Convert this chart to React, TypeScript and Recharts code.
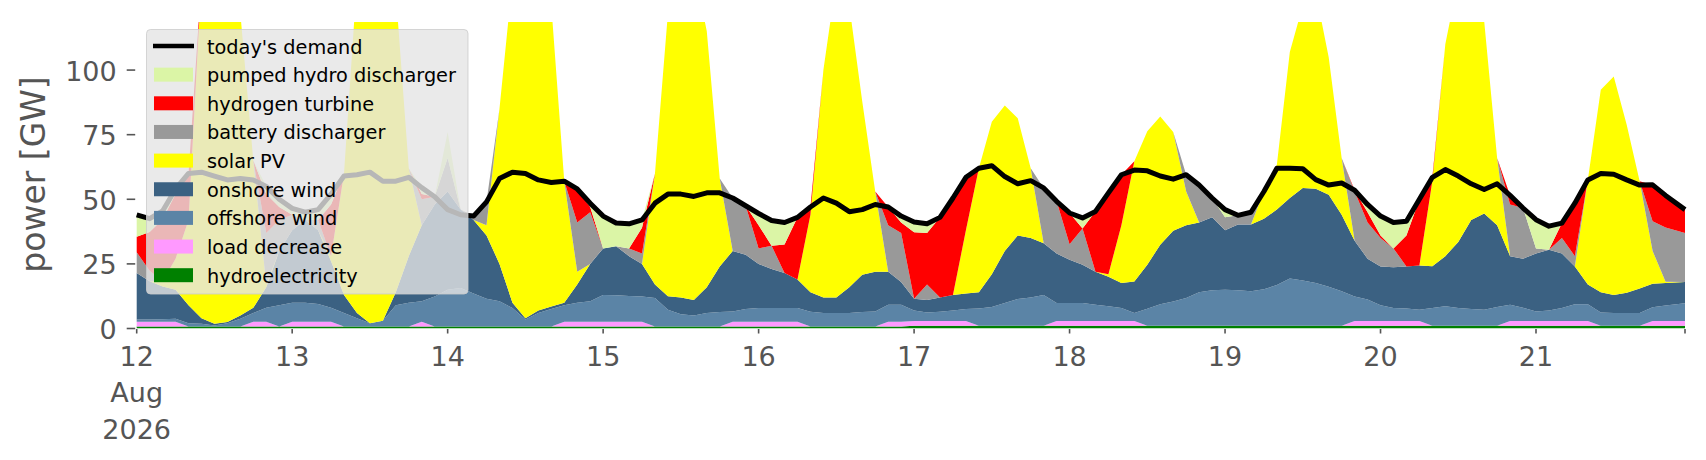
import React from 'react';
import { ComposedChart, Area, Line, XAxis, YAxis } from 'recharts';

// hours since 12 Aug 2026 00:00 (read every 2 h, last point is the final hour)
const hours = [
  0, 2, 4, 6, 8, 10, 12, 14, 16, 18, 20, 22,
  24, 26, 28, 30, 32, 34, 36, 38, 40, 42, 44, 46,
  48, 50, 52, 54, 56, 58, 60, 62, 64, 66, 68, 70,
  72, 74, 76, 78, 80, 82, 84, 86, 88, 90, 92, 94,
  96, 98, 100, 102, 104, 106, 108, 110, 112, 114, 116, 118,
  120, 122, 124, 126, 128, 130, 132, 134, 136, 138, 140, 142,
  144, 146, 148, 150, 152, 154, 156, 158, 160, 162, 164, 166,
  168, 170, 172, 174, 176, 178, 180, 182, 184, 186, 188, 190,
  192, 194, 196, 198, 200, 202, 204, 206, 208, 210, 212, 214,
  216, 218, 220, 222, 224, 226, 228, 230, 232, 234, 236, 239,
];

// GW, one row per day
const hydroelectricity = [
  0.8, 0.8, 0.8, 0.8, 0.8, 0.8, 0.8, 0.8, 0.8, 0.8, 0.8, 0.8,
  0.8, 0.8, 0.8, 0.8, 0.8, 0.8, 0.8, 0.8, 0.8, 0.8, 0.8, 0.8,
  0.8, 0.8, 0.8, 0.8, 0.8, 0.8, 0.8, 0.8, 0.8, 0.8, 0.8, 0.8,
  0.8, 0.8, 0.8, 0.8, 0.8, 0.8, 0.8, 0.8, 0.8, 0.8, 0.8, 0.8,
  0.8, 0.8, 0.8, 0.8, 0.8, 0.8, 0.8, 0.8, 0.8, 0.8, 0.8, 0.8,
  1.1, 1.1, 1.1, 1.1, 1.1, 1.1, 1.1, 1.1, 1.1, 1.1, 1.1, 1.1,
  1.1, 1.1, 1.1, 1.1, 1.1, 1.1, 1.1, 1.1, 1.1, 1.1, 1.1, 1.1,
  1.1, 1.1, 1.1, 1.1, 1.1, 1.1, 1.1, 1.1, 1.1, 1.1, 1.1, 1.1,
  1.1, 1.1, 1.1, 1.1, 1.1, 1.1, 1.1, 1.1, 1.1, 1.1, 1.1, 1.1,
  1.1, 1.1, 1.1, 1.1, 1.1, 1.1, 1.1, 1.1, 1.1, 1.1, 1.1, 1.1,
];
const loadDecrease = [
  1.8, 1.8, 1.8, 1.8, 0, 0, 0, 0, 0, 1.8, 1.8, 0,
  1.8, 1.8, 1.8, 1.8, 0, 0, 0, 0, 0, 0, 1.8, 0,
  0, 0, 0, 0, 0, 0, 0, 0, 0, 1.8, 1.8, 1.8,
  1.8, 1.8, 1.8, 1.8, 0, 0, 0, 0, 0, 0, 1.8, 1.8,
  1.8, 1.8, 1.8, 1.8, 0, 0, 0, 0, 0, 0, 1.8, 1.8,
  1.8, 1.8, 1.8, 1.8, 1.8, 0, 0, 0, 0, 0, 0, 1.8,
  1.8, 1.8, 1.8, 1.8, 1.8, 1.8, 0, 0, 0, 0, 0, 0,
  0, 0, 0, 0, 0, 0, 0, 0, 0, 0, 1.8, 1.8,
  1.8, 1.8, 1.8, 1.8, 0, 0, 0, 0, 0, 0, 1.8, 1.8,
  1.8, 1.8, 1.8, 1.8, 1.8, 0, 0, 0, 0, 1.8, 1.8, 1.8,
];
const offshoreWind = [
  0.9, 0.9, 1, 1.2, 1.2, 1, 0.4, 1.2, 3, 3.4, 5.4, 8.2,
  7.4, 7.4, 6.9, 5.4, 5.2, 3.2, 1.2, 2.2, 8.2, 9.2, 7.9, 11.6,
  14.2, 14.9, 12.7, 10.7, 9.7, 7.1, 2.7, 5.2, 6.7, 6.4, 7.4, 7.9,
  10.4, 10.3, 10, 9.8, 11, 6.5, 4.7, 4.2, 5.2, 5.6, 4, 4.9,
  5.3, 5.3, 5.3, 5.3, 5.7, 5.2, 5.2, 5.2, 5.6, 5.8, 6.6, 6.6,
  4.1, 3.3, 3.6, 4.1, 4.6, 6.6, 7.2, 8.8, 10.3, 10.9, 11.9, 7,
  7, 7, 6.3, 5.7, 5, 3.1, 6.5, 8.3, 9.3, 10.7, 12.9, 13.7,
  13.9, 13.7, 13.3, 14.1, 15.7, 18.2, 17.5, 16.5, 15.1, 13.3, 9.5, 8.3,
  6.1, 5, 4.8, 4.4, 6.8, 7.5, 6.8, 6.4, 6.2, 7.2, 6.3, 5.1,
  3.7, 4.1, 5, 6.5, 6.5, 5.1, 4.9, 4.9, 4.9, 5.3, 6, 6.9,
];
const onshoreWind = [
  18, 14.8, 12.7, 11.2, 7, 2.2, 0.6, 0.5, 1.2, 2, 8, 21,
  28, 32, 28.5, 18, 7, 2, 0, 0, 5, 18, 29.5, 35.6,
  38, 30.3, 28.5, 24.5, 14.5, 2.1, 0.5, 1, 1, 1, 7, 14.5,
  18, 18.9, 15.4, 12.6, 5.2, 5.2, 6.5, 6, 10, 17.6, 23.4, 21,
  17.1, 15.1, 13.6, 11.1, 7.5, 6, 6, 10, 14.4, 15.4, 12.8, 8.8,
  4.5, 4.8, 5.5, 6, 6, 6.3, 12.7, 20.1, 24.6, 23, 20, 19.1,
  16.7, 14.8, 12.8, 11.4, 9.7, 12.2, 17.1, 23, 27.4, 28.2, 27, 28.2,
  23, 25.4, 25.8, 27.3, 29.2, 31.2, 35.8, 36.5, 35.6, 29.6, 21.6, 15.8,
  15, 15.8, 16.3, 17.1, 16.2, 19.4, 25.6, 34.5, 37.2, 31.7, 18.8, 19,
  22.4, 23.5, 21.1, 14.6, 7.6, 7.8, 7, 7.8, 9.5, 9.1, 8.7, 8.2,
];
const solarPV = [
  0, 0, 2, 12, 33, 131, 148, 142, 117, 57, 1, 0,
  0, 0, 0, 2, 47, 129, 148, 142, 116, 34, 0, 0,
  0, 0, 0, 4, 60, 125, 151, 143, 116.5, 47, 5, 0,
  0, 0, 0, 0, 43, 109.5, 133, 129, 99, 34, 0, 0,
  0, 0, 0, 0, 30, 88, 123, 109, 67, 31, 0, 0,
  0, 0, 0, 0, 24.5, 48, 59, 56.3, 45.4, 27, 0, 0,
  0, 0, 0, 1, 22.4, 46.5, 51.6, 49.6, 38.2, 13, 0, 0,
  0, 0, 0, 10.5, 17.4, 56.5, 70.6, 76, 53.2, 22, 0, 0,
  0, 0, 0, 0, 33, 82, 101.5, 88, 74.5, 26, 0, 0,
  0, 0, 0, 0, 40.5, 78.4, 84.5, 65, 41.5, 12.7, 0.5, 0,
];
const batteryDischarger = [
  8, 4, 0, 0, 0, 0, 0, 0, 0, 0, 20, 12,
  6, 0, 4, 0, 0, 0, 0, 0, 0, 0, 10, 3,
  13, 0, 1.5, 9, 0, 0, 0, 0, 0, 0, 19, 20,
  0, 0, 3, 4, 0, 0, 0, 0, 0, 0, 20.5, 19,
  6, 9, 0, 0, 0, 0, 0, 0, 0, 0, 18, 19,
  0, 6, 0, 0, 0, 0, 0, 0, 0, 0, 21.4, 20.2,
  6, 14, 0, 0, 0, 0, 0, 0, 0, 6.5, 14.5, 7.5,
  5, 3.6, 4.8, 0, 0, 0, 0, 0, 0, 0, 19, 14,
  11, 7.3, 0, 0, 0, 0, 0, 0, 0, 0, 20, 19.6,
  2, 0, 6, 4, 0, 0, 0, 0, 0, 11.5, 21, 19,
];
const hydrogenTurbine = [
  6, 15, 24, 25, 18, 0, 0, 0, 0, 0, 15, 5,
  0, 0, 0, 20, 0, 0, 0, 0, 0, 0, 2, 0,
  0, 0, 0, 0, 0, 0, 0, 0, 0, 0, 13, 2,
  0, 0, 0, 10, 0, 0, 0, 0, 0, 0, 0, 0,
  9, 0, 11, 24, 3, 0, 0, 0, 0, 0, 7, 4,
  25.7, 20, 31, 37.5, 20.5, 0, 0, 0, 0, 0, 0, 0,
  12.1, 0, 23.3, 31.5, 19.5, 0, 0, 0, 0, 0, 0, 0,
  0, 0, 0, 0, 0, 0, 0, 0, 0, 0, 0.5, 4,
  1, 0, 12, 25.6, 1.4, 0, 0, 0, 0, 0, 3.5, 0,
  0, 0, 5.8, 20.5, 0, 0, 0, 0, 0, 14, 12.5, 9,
];
const pumpedHydroDischarger = [
  8.5, 5.2, 3.2, 2, 0, 0, 0, 0, 0, 0, 3, 3,
  2.5, 3, 4, 4, 0, 0, 0, 0, 0, 0, 2.5, 0,
  10, 0, 0, 0, 0, 0, 0, 0, 0, 0, 0, 1.5,
  12.5, 9, 9.5, 3, 0, 0, 0, 0, 0, 0, 0, 0,
  4.5, 9.8, 8.5, 0, 0, 0, 0, 0, 0, 0, 0, 2.5,
  4, 3.5, 0, 0, 0, 0, 0, 0, 0, 0, 0, 0,
  0, 4.1, 0, 0, 0, 0, 0, 0, 0, 0, 0, 0,
  3, 0, 0, 0, 0, 0, 0, 0, 0, 0, 0, 3,
  7.5, 10, 5.5, 0, 0, 0, 0, 0, 0, 0, 0, 0,
  11.1, 9.1, 0, 0, 0, 0, 0, 0, 0, 0, 0, 0,
];
const todaysDemand = [
  44, 42.5, 45.5, 54, 60, 60.5, 59, 57.5, 58, 57.5, 55, 50,
  46.5, 45, 46, 52, 59, 59.5, 60.5, 57, 57, 58.5, 54.5, 51,
  46, 44, 43.5, 49, 58, 60.5, 60, 57.5, 56.5, 57, 54, 48.5,
  43.5, 40.8, 40.5, 42, 48.5, 52, 52, 51.1, 52.5, 52.5, 50.5, 47.5,
  44.5, 41.8, 41, 43, 47, 50.5, 48.5, 45.2, 46, 48, 47, 43.5,
  41.2, 40.5, 43, 50.5, 58.5, 62, 63, 58.8, 56, 57.2, 54.4, 49.2,
  44.7, 42.8, 45.3, 52.5, 59.5, 61.3, 61, 59, 57.8, 59.5, 55.5, 50.5,
  46, 43.8, 45, 53, 62, 62, 61.8, 57.6, 55.5, 56.3, 53.5, 48,
  43.5, 41, 41.5, 50, 58.5, 61.5, 59, 56, 53.8, 56, 51.5, 46.6,
  42.1, 39.6, 40.8, 48.5, 57.5, 60, 59.7, 57.5, 55.5, 55.6, 51.5, 46,
];

const dayTicks = [0, 24, 48, 72, 96, 120, 144, 168, 192, 216, 239];
const dayTickLabels = [['12', 'Aug', '2026'], ['13'], ['14'], ['15'], ['16'], ['17'], ['18'], ['19'], ['20'], ['21'], []];
const powerTicks = [0, 25, 50, 75, 100];

// bottom of the stack first
const series = [
  { key: 'hydro', name: 'hydroelectricity', color: '#008000', values: hydroelectricity },
  { key: 'load', name: 'load decrease', color: '#ff99ff', values: loadDecrease },
  { key: 'offshore', name: 'offshore wind', color: '#5b84a6', values: offshoreWind },
  { key: 'onshore', name: 'onshore wind', color: '#3b6182', values: onshoreWind },
  { key: 'solar', name: 'solar PV', color: '#ffff00', values: solarPV },
  { key: 'battery', name: 'battery discharger', color: '#999999', values: batteryDischarger },
  { key: 'hydrogen', name: 'hydrogen turbine', color: '#ff0000', values: hydrogenTurbine },
  { key: 'pumped', name: 'pumped hydro discharger', color: '#dbf5a6', values: pumpedHydroDischarger },
];

const rows = hours.map((h, i) => {
  const row: Record<string, number> = { h, demand: todaysDemand[i] };
  series.forEach((s) => {
    row[s.key] = s.values[i];
  });
  return row;
});

const FONT = 'DejaVu Sans';
const AXIS_GREY = '#555555';

const XTick = (props: any) => {
  const { x, y, payload } = props;
  const idx = dayTicks.indexOf(payload.value);
  const lines = idx >= 0 ? dayTickLabels[idx] : [];
  return (
    <g>
      <line x1={x} x2={x} y1={y + 0.5} y2={y + 5} stroke={AXIS_GREY} strokeWidth={1.6} />
      {lines.map((t, i) => (
        <text key={i} x={x} y={y + 37 + i * 36.5} textAnchor="middle" fill={AXIS_GREY} fontSize={27} fontFamily={FONT}>
          {t}
        </text>
      ))}
    </g>
  );
};

const YTick = (props: any) => {
  const { x, y, payload } = props;
  return (
    <g>
      <line x1={x - 10} x2={x - 1.5} y1={y} y2={y} stroke={AXIS_GREY} strokeWidth={1.6} />
      <text x={x - 20} y={y + 10.5} textAnchor="end" fill={AXIS_GREY} fontSize={27} fontFamily={FONT}>
        {payload.value}
      </text>
    </g>
  );
};

// legend rows, top to bottom
const legendRows = [
  { name: "today's demand", color: '#000000', line: true },
  ...series
    .slice()
    .reverse()
    .map((s) => ({ name: s.name, color: s.color, line: false })),
];

const Overlay = () => (
  <svg
    width={1706}
    height={460}
    style={{ position: 'absolute', left: 0, top: 0, pointerEvents: 'none' }}
  >
    <text
      transform="translate(44.8,174.5) rotate(-90)"
      textAnchor="middle"
      fill={AXIS_GREY}
      fontSize={33}
      fontFamily={FONT}
    >
      power [GW]
    </text>
    <rect x={146.5} y={29.5} width={321.5} height={264.5} rx={4} fill="#e5e5e5" fillOpacity={0.8} stroke="#cccccc" strokeOpacity={0.8} />
    {legendRows.map((r, i) => {
      const cy = 46 + i * 28.65;
      return (
        <g key={r.name}>
          {r.line ? (
            <line x1={153} x2={194} y1={cy} y2={cy} stroke={r.color} strokeWidth={4.5} />
          ) : (
            <rect x={154} y={cy - 7} width={39} height={14} fill={r.color} />
          )}
          <text x={207} y={cy + 7.5} fontSize={19.3} fontFamily={FONT} fill="#000">
            {r.name}
          </text>
        </g>
      );
    })}
  </svg>
);

export default function App() {
  return (
    <div style={{ position: 'absolute', left: 0, top: 0, width: 1706, height: 460, background: '#fff' }}>
      <ComposedChart width={1706} height={460} data={rows} margin={{ top: 22, right: 21, bottom: 71.5, left: 76.7 }}>
        <XAxis
          dataKey="h"
          type="number"
          domain={[0, 239]}
          ticks={dayTicks}
          interval={0}
          axisLine={false}
          tickLine={false}
          tickSize={0}
          tickMargin={0}
          height={60}
          tick={XTick}
        />
        <YAxis
          type="number"
          domain={[0, 118.6]}
          allowDataOverflow
          ticks={powerTicks}
          interval={0}
          axisLine={false}
          tickLine={false}
          tickSize={0}
          tickMargin={0}
          width={60}
          tick={YTick}
        />
        {series.map((s) => (
          <Area
            key={s.key}
            type="linear"
            dataKey={s.key}
            name={s.name}
            stackId="supply"
            stroke="none"
            fill={s.color}
            fillOpacity={1}
            isAnimationActive={false}
          />
        ))}
        <Line
          type="linear"
          dataKey="demand"
          name="today's demand"
          stroke="#000000"
          strokeWidth={5}
          strokeLinejoin="round"
          dot={false}
          activeDot={false}
          isAnimationActive={false}
        />
      </ComposedChart>
      <Overlay />
    </div>
  );
}
